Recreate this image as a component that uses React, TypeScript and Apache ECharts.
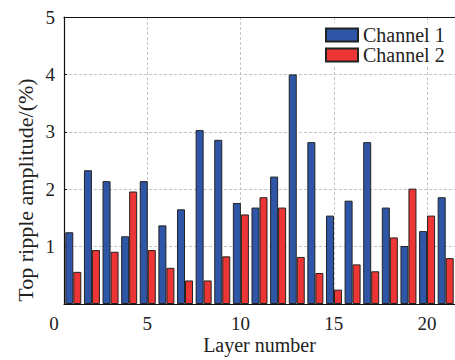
import React, { useEffect, useRef } from "react";
import * as echarts from "echarts";

const layers = ["1","2","3","4","5","6","7","8","9","10","11","12","13","14","15","16","17","18","19","20","21"];
const channel1 = [1.25, 2.33, 2.14, 1.18, 2.14, 1.37, 1.65, 3.03, 2.86, 1.76, 1.68, 2.22, 4.0, 2.82, 1.54, 1.80, 2.82, 1.68, 1.01, 1.27, 1.86];
const channel2 = [0.56, 0.94, 0.91, 1.96, 0.94, 0.63, 0.41, 0.41, 0.83, 1.56, 1.86, 1.68, 0.82, 0.54, 0.25, 0.69, 0.57, 1.16, 2.01, 1.54, 0.80];
const seriesNames = ["Channel 1", "Channel 2"];
const yTitle = "Top ripple amplitude/(%)";
const xTitle = "Layer number";

const FONT = "Liberation Serif";

export default function App() {
  const ref = useRef<HTMLDivElement>(null);
  useEffect(() => {
    if (!ref.current) return;
    const chart = echarts.init(ref.current, undefined, { renderer: "svg" });
    const dashed = { show: true, lineStyle: { color: "#c4c4c4", type: [3, 2] as any, width: 1 } };
    chart.setOption({
      animation: false,
      backgroundColor: "#ffffff",
      textStyle: { fontFamily: FONT },
      grid: [
        { left: 54, right: -4, top: 17, bottom: 53 },
        { left: 64, right: -4, top: 17, bottom: 53 },
      ],
      legend: {
        orient: "vertical",
        left: 323,
        top: 23,
        padding: [2, 4, 2, 2],
        backgroundColor: "#ffffff",
        icon: "rect",
        itemWidth: 32,
        itemHeight: 13,
        itemGap: 0,
        textStyle: { fontFamily: FONT, fontSize: 20, color: "#222", lineHeight: 20 },
        data: seriesNames,
      },
      graphic: [
        {
          type: "text",
          x: 25,
          y: 190,
          rotation: Math.PI / 2,
          silent: true,
          style: {
            text: yTitle,
            fontFamily: FONT,
            fontSize: 22,
            fill: "#222",
            align: "center",
            verticalAlign: "middle",
          },
        },
      ],
      xAxis: [
        {
          type: "value",
          gridIndex: 0,
          min: 0,
          max: 21.5,
          interval: 5,
          axisLine: { show: false },
          axisTick: { show: false },
          axisLabel: { fontFamily: FONT, fontSize: 19, color: "#222", margin: 7, showMaxLabel: false },
          splitLine: { ...dashed, showMinLine: false, showMaxLine: false },
        },
        {
          type: "category",
          gridIndex: 1,
          data: layers,
          boundaryGap: true,
          axisLine: { show: true, lineStyle: { color: "#111", width: 1.2 } },
          axisTick: { show: false },
          axisLabel: { show: false },
          splitLine: { show: false },
          name: xTitle,
          nameLocation: "middle",
          nameGap: 31,
          nameTextStyle: { fontFamily: FONT, fontSize: 20, color: "#222" },
        },
        {
          type: "category",
          gridIndex: 1,
          position: "top",
          data: layers,
          axisLine: { show: true, lineStyle: { color: "#111", width: 1.2 } },
          axisTick: { show: false },
          axisLabel: { show: false },
          splitLine: { show: false },
        },
      ],
      yAxis: [
        {
          type: "value",
          gridIndex: 1,
          min: 0,
          max: 5,
          interval: 1,
          axisLine: { show: true, lineStyle: { color: "#111", width: 1.2 } },
          axisTick: { show: true, inside: true, length: 3, lineStyle: { color: "#111" } },
          axisLabel: {
            fontFamily: FONT,
            fontSize: 19,
            color: "#222",
            margin: 9,
            formatter: (v: number) => (v === 0 ? "" : String(v)),
          },
          splitLine: { ...dashed, showMinLine: false, showMaxLine: false },
        },
        { type: "value", gridIndex: 0, show: false, min: 0, max: 5 },
      ],
      series: [
        {
          name: seriesNames[0],
          type: "bar",
          xAxisIndex: 1,
          yAxisIndex: 0,
          data: channel1,
          barGap: "0%",
          barCategoryGap: "14%",
          itemStyle: { color: "#2f56a6", borderColor: "#222", borderWidth: 1 },
        },
        {
          name: seriesNames[1],
          type: "bar",
          xAxisIndex: 1,
          yAxisIndex: 0,
          data: channel2,
          barGap: "0%",
          barCategoryGap: "14%",
          itemStyle: { color: "#ee3535", borderColor: "#222", borderWidth: 1 },
        },
      ],
    });
    return () => chart.dispose();
  }, []);
  return (
    <div
      ref={ref}
      style={{ position: "fixed", left: 0, top: 0, width: 455, height: 360 }}
    />
  );
}
